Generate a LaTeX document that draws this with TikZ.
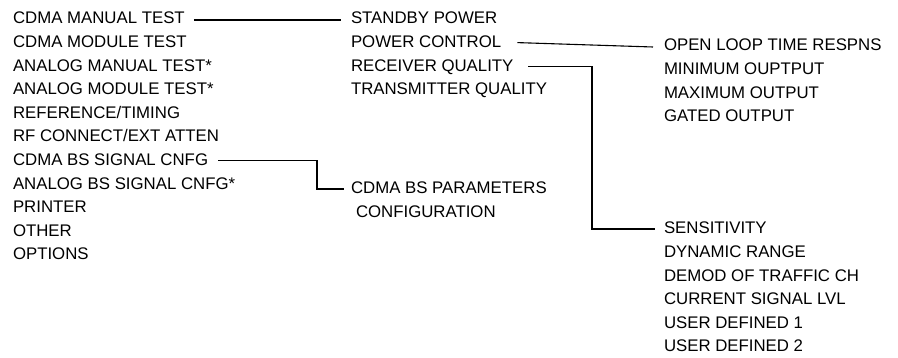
\documentclass[tikz,border=0pt]{standalone}
\usepackage{fontspec}
\setmainfont{Liberation Sans}
\begin{document}
\begin{tikzpicture}[x=1pt,y=-1pt,
  lbl/.style={anchor=west,inner sep=0pt,outer sep=0pt,text height=12pt,text depth=0pt,
    font=\fontsize{16.8}{20}\selectfont},
  conn/.style={line width=1.1pt,black}]
\useasboundingbox (0,0) rectangle (898,358);
% left column
\node[lbl] (cmt) at (13,18)    {CDMA MANUAL TEST};
\node[lbl] (cmo) at (13,41.6)  {CDMA MODULE TEST};
\node[lbl] (amt) at (13,65.2)  {ANALOG MANUAL TEST*};
\node[lbl] (amo) at (13,88.8)  {ANALOG MODULE TEST*};
\node[lbl] (ref) at (13,112.4) {REFERENCE/TIMING};
\node[lbl] (rfc) at (13,136)   {RF CONNECT/EXT ATTEN};
\node[lbl] (cbs) at (13,159.6) {CDMA BS SIGNAL CNFG};
\node[lbl] (abs) at (13,183.2) {ANALOG BS SIGNAL CNFG*};
\node[lbl] (prn) at (13,206.8) {PRINTER};
\node[lbl] (oth) at (13,230.4) {OTHER};
\node[lbl] (opt) at (13,254)   {OPTIONS};
% second column
\node[lbl] (sp) at (351,18)   {STANDBY POWER};
\node[lbl] (pc) at (351,41.6) {POWER CONTROL};
\node[lbl] (rq) at (351,65.2) {RECEIVER QUALITY};
\node[lbl] (tq) at (351,88.8) {TRANSMITTER QUALITY};
\node[lbl] (par) at (351,188)   {CDMA BS PARAMETERS};
\node[lbl] (cnf) at (356,211.6) {CONFIGURATION};
% third column, upper
\node[lbl] (ol)  at (664,45)   {OPEN LOOP TIME RESPNS};
\node[lbl] (mn)  at (664,68.6) {MINIMUM OUPTPUT};
\node[lbl] (mx)  at (664,92.2) {MAXIMUM OUTPUT};
\node[lbl] (go)  at (664,115.8) {GATED OUTPUT};
% third column, lower
\node[lbl] (sen) at (664,228)   {SENSITIVITY};
\node[lbl] (dyn) at (664,251.6) {DYNAMIC RANGE};
\node[lbl] (dem) at (664,275.2) {DEMOD OF TRAFFIC CH};
\node[lbl] (cur) at (664,298.8) {CURRENT SIGNAL LVL};
\node[lbl] (ud1) at (664,322.4) {USER DEFINED 1};
\node[lbl] (ud2) at (664,346)   {USER DEFINED 2};
% connectors
\draw[conn] ([shift={(9pt,-2pt)}]cmt.east) -- ([shift={(-10pt,-2pt)}]sp.west);
\draw[conn] ([shift={(16pt,-1pt)}]pc.east) -- ([shift={(-11pt,-2pt)}]ol.west);
\draw[conn] ([shift={(15pt,-1pt)}]rq.east) -| ([yshift=-1pt]592,0 |- sen.west) -- ([shift={(-9pt,-1pt)}]sen.west);
\draw[conn] ([shift={(10pt,-1pt)}]cbs.east) -| ([yshift=-1pt]317,0 |- par.west) -- ([shift={(-7pt,-1pt)}]par.west);
\end{tikzpicture}
\end{document}
